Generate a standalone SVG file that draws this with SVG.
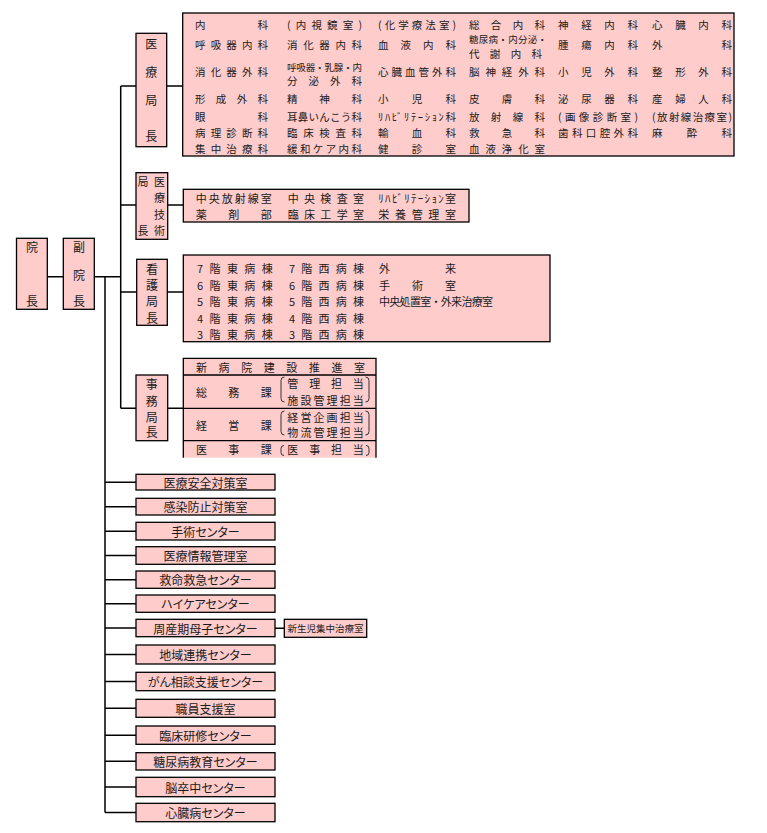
<svg xmlns="http://www.w3.org/2000/svg" width="767" height="833" viewBox="0 0 767 833">
<style>
.box{fill:#ffcccc;stroke:#000;stroke-width:1.3}
.fill{fill:#ffcccc;stroke:none}
.ln{stroke:#000;stroke-width:1.5;fill:none}
.bd{stroke:#000;stroke-width:1.3;fill:none}
.br{stroke:#333;stroke-width:1;fill:none}
text{font-family:"Noto Sans CJK JP","Noto Sans CJK SC",sans-serif;fill:#1a1a1a;dominant-baseline:central}
.t{font-size:11px}
.m{font-size:10.5px}
.s{font-size:9.5px}
.c{text-anchor:middle;font-size:12px;font-feature-settings:"palt"}
.v{text-anchor:middle;font-size:12px}
.w{text-anchor:middle;font-size:11px}
.n{text-anchor:middle;font-size:9.5px;font-feature-settings:"palt"}
</style>
<rect width="767" height="833" fill="#fff"/>
<g id="connectors">
<path class="ln" d="M47,276.7H63.3M94.3,276.7H120.7M120.7,86V408.3M120.7,86H136M166.7,86H182.7M120.7,205H136M167.7,205H183.3M120.7,292H136.7M167.3,292H183.3M120.7,408.3H136M167.7,408.3H183.3"/>
<path class="ln" d="M105,276.7V812.5M105,482.2H136M105,506.7H136M105,531.2H136M105,555.5H136M105,579.7H136M105,603.7H136M105,628H136M105,654.5H136M105,681.5H136M105,708.3H136M105,735.2H136M105,761.3H136M105,787H136M105,812.5H136M275,628.3H284.3"/>
</g>
<g id="director">
<rect class="box" x="16.5" y="238.3" width="30.8" height="71"/>
<text class="v" x="32" y="246.7">院</text>
<text class="v" x="32" y="300.7">長</text>
</g>
<g id="vice-director">
<rect class="box" x="63.3" y="238.3" width="31" height="71"/>
<text class="v" x="79" y="246.7">副</text>
<text class="v" x="79" y="274">院</text>
<text class="v" x="79" y="300.7">長</text>
</g>
<g id="medical-chief">
<rect class="box" x="136" y="33.3" width="30.7" height="113.4"/>
<text class="v" x="151.3" y="43.3">医</text>
<text class="v" x="151.3" y="71.7">療</text>
<text class="v" x="151.3" y="99.3">局</text>
<text class="v" x="151.3" y="135">長</text>
</g>
<g id="medical-departments">
<rect class="box" x="182.7" y="13" width="551.3" height="143"/>
<g class="m">
<text x="195" y="24.5" textLength="73" lengthAdjust="spacing">内科</text>
<text x="287" y="24.5" textLength="75" lengthAdjust="spacing">(内視鏡室)</text>
<text x="378" y="24.5" textLength="78" lengthAdjust="spacing">(化学療法室)</text>
<text x="469" y="24.5" textLength="76" lengthAdjust="spacing">総合内科</text>
<text x="558" y="24.5" textLength="80" lengthAdjust="spacing">神経内科</text>
<text x="652" y="24.5" textLength="80" lengthAdjust="spacing">心臓内科</text>

<text x="195" y="44.3" textLength="73" lengthAdjust="spacing">呼吸器内科</text>
<text x="287" y="44.3" textLength="75" lengthAdjust="spacing">消化器内科</text>
<text x="378" y="44.3" textLength="78" lengthAdjust="spacing">血液内科</text>
<text class="s" x="469" y="39" textLength="78" lengthAdjust="spacing">糖尿病・内分泌・</text>
<text x="469" y="53" textLength="73" lengthAdjust="spacing">代謝内科</text>
<text x="558" y="44.3" textLength="80" lengthAdjust="spacing">腫瘍内科</text>
<text x="652" y="44.3" textLength="80" lengthAdjust="spacing">外科</text>

<text x="195" y="71.7" textLength="73" lengthAdjust="spacing">消化器外科</text>
<text class="s" x="287" y="66.5" textLength="75" lengthAdjust="spacing">呼吸器・乳腺・内</text>
<text x="287" y="80.7" textLength="75" lengthAdjust="spacing">分泌外科</text>
<text x="378" y="71.7" textLength="78" lengthAdjust="spacing">心臓血管外科</text>
<text x="469" y="71.7" textLength="76" lengthAdjust="spacing">脳神経外科</text>
<text x="558" y="71.7" textLength="80" lengthAdjust="spacing">小児外科</text>
<text x="652" y="71.7" textLength="80" lengthAdjust="spacing">整形外科</text>

<text x="195" y="98.5" textLength="73" lengthAdjust="spacing">形成外科</text>
<text x="287" y="98.5" textLength="75" lengthAdjust="spacing">精神科</text>
<text x="378" y="98.5" textLength="78" lengthAdjust="spacing">小児科</text>
<text x="469" y="98.5" textLength="76" lengthAdjust="spacing">皮膚科</text>
<text x="558" y="98.5" textLength="80" lengthAdjust="spacing">泌尿器科</text>
<text x="652" y="98.5" textLength="80" lengthAdjust="spacing">産婦人科</text>

<text x="195" y="116.5" textLength="73" lengthAdjust="spacing">眼科</text>
<text x="287" y="116.5" textLength="75" lengthAdjust="spacing">耳鼻いんこう科</text>
<text x="378" y="116.5" textLength="78" lengthAdjust="spacing">ﾘﾊﾋﾞﾘﾃｰｼｮﾝ科</text>
<text x="469" y="116.5" textLength="76" lengthAdjust="spacing">放射線科</text>
<text x="558" y="116.5" textLength="80" lengthAdjust="spacing">(画像診断室)</text>
<text x="652" y="116.5" textLength="80" lengthAdjust="spacing">(放射線治療室)</text>

<text x="195" y="132.8" textLength="73" lengthAdjust="spacing">病理診断科</text>
<text x="287" y="132.8" textLength="75" lengthAdjust="spacing">臨床検査科</text>
<text x="378" y="132.8" textLength="78" lengthAdjust="spacing">輸血科</text>
<text x="469" y="132.8" textLength="76" lengthAdjust="spacing">救急科</text>
<text x="558" y="132.8" textLength="80" lengthAdjust="spacing">歯科口腔外科</text>
<text x="652" y="132.8" textLength="80" lengthAdjust="spacing">麻酔科</text>

<text x="195" y="148.2" textLength="73" lengthAdjust="spacing">集中治療科</text>
<text x="287" y="148.2" textLength="75" lengthAdjust="spacing">緩和ケア内科</text>
<text x="378" y="148.2" textLength="78" lengthAdjust="spacing">健診室</text>
<text x="469" y="148.2" textLength="76" lengthAdjust="spacing">血液浄化室</text>
</g>
</g>
<g id="medtech-chief">
<rect class="box" x="136" y="172.7" width="31.7" height="66.6"/>
<text class="w" x="143" y="181">局</text>
<text class="w" x="159.5" y="181">医</text>
<text class="w" x="159.5" y="197">療</text>
<text class="w" x="159.5" y="213.5">技</text>
<text class="w" x="143" y="230">長</text>
<text class="w" x="159.5" y="230">術</text>
</g>
<g id="medtech-departments">
<rect class="box" x="183.3" y="189.3" width="285.7" height="32.7"/>
<g class="t">
<text x="195.7" y="197.5" textLength="76" lengthAdjust="spacing">中央放射線室</text>
<text x="287.7" y="197.5" textLength="76.3" lengthAdjust="spacing">中央検査室</text>
<text x="378.3" y="197.5" textLength="77.7" lengthAdjust="spacing">ﾘﾊﾋﾞﾘﾃｰｼｮﾝ室</text>
<text x="195.7" y="213.8" textLength="76" lengthAdjust="spacing">薬剤部</text>
<text x="287.7" y="213.8" textLength="76.3" lengthAdjust="spacing">臨床工学室</text>
<text x="378.3" y="213.8" textLength="77.7" lengthAdjust="spacing">栄養管理室</text>
</g>
</g>
<g id="nursing-chief">
<rect class="box" x="136.7" y="259.3" width="30.6" height="66"/>
<text class="v" x="152" y="268.3">看</text>
<text class="v" x="152" y="284.3">護</text>
<text class="v" x="152" y="300.7">局</text>
<text class="v" x="152" y="317.3">長</text>
</g>
<g id="nursing-departments">
<rect class="box" x="183.3" y="255" width="366.7" height="86.7"/>
<g class="t">
<text x="197" y="268.3" textLength="75.7" lengthAdjust="spacing">7階東病棟</text>
<text x="197" y="284.7" textLength="75.7" lengthAdjust="spacing">6階東病棟</text>
<text x="197" y="301.2" textLength="75.7" lengthAdjust="spacing">5階東病棟</text>
<text x="197" y="317.7" textLength="75.7" lengthAdjust="spacing">4階東病棟</text>
<text x="197" y="334.3" textLength="75.7" lengthAdjust="spacing">3階東病棟</text>
<text x="289" y="268.3" textLength="75" lengthAdjust="spacing">7階西病棟</text>
<text x="289" y="284.7" textLength="75" lengthAdjust="spacing">6階西病棟</text>
<text x="289" y="301.2" textLength="75" lengthAdjust="spacing">5階西病棟</text>
<text x="289" y="317.7" textLength="75" lengthAdjust="spacing">4階西病棟</text>
<text x="289" y="334.3" textLength="75" lengthAdjust="spacing">3階西病棟</text>
<text x="379" y="268.3" textLength="77" lengthAdjust="spacing">外来</text>
<text x="379" y="284.7" textLength="77" lengthAdjust="spacing">手術室</text>
<text x="379" y="301.2" textLength="114" lengthAdjust="spacing">中央処置室・外来治療室</text>
</g>
</g>
<g id="admin-chief">
<rect class="box" x="136" y="375" width="31.7" height="65.7"/>
<text class="v" x="151.8" y="383.3">事</text>
<text class="v" x="151.8" y="400">務</text>
<text class="v" x="151.8" y="416">局</text>
<text class="v" x="151.8" y="431.7">長</text>
</g>
<g id="admin-departments">
<rect class="fill" x="183.3" y="358.3" width="192.7" height="99.4"/>
<path class="bd" d="M183.3,457.7V358.3H376V457.7M183.3,375H376M183.3,408.3H376M183.3,440.7H376"/>
<path class="br" d="M284.5,377Q281,377 281,380.5V398.5Q281,402 284.5,402M365.5,377Q369,377 369,380.5V398.5Q369,402 365.5,402"/>
<path class="br" d="M284.5,411Q281,411 281,414.5V431.5Q281,435 284.5,435M365.5,411Q369,411 369,414.5V431.5Q369,435 365.5,435"/>
<path class="br" d="M284,445.5Q281,445.5 281,448.5V452.5Q281,455.5 284,455.5M366,445.5Q369,445.5 369,448.5V452.5Q369,455.5 366,455.5"/>
<g class="t">
<text x="196" y="366.7" textLength="169" lengthAdjust="spacing">新病院建設推進室</text>
<text x="196" y="391.7" textLength="75.7" lengthAdjust="spacing">総務課</text>
<text x="287.3" y="383.3" textLength="76.5" lengthAdjust="spacing">管理担当</text>
<text x="287.3" y="400" textLength="76.5" lengthAdjust="spacing">施設管理担当</text>
<text x="196" y="424.5" textLength="75.7" lengthAdjust="spacing">経営課</text>
<text x="287.3" y="416.7" textLength="76.5" lengthAdjust="spacing">経営企画担当</text>
<text x="287.3" y="432" textLength="76.5" lengthAdjust="spacing">物流管理担当</text>
<text x="196" y="449" textLength="75.7" lengthAdjust="spacing">医事課</text>
<text x="287.3" y="449" textLength="76.5" lengthAdjust="spacing">医事担当</text>
</g>
</g>
<g id="safety"><rect class="box" x="136" y="474.3" width="139" height="15.7"/><text class="c" x="205.5" y="482.2">医療安全対策室</text></g>
<g id="infection"><rect class="box" x="136" y="498.3" width="139" height="16.7"/><text class="c" x="205.5" y="506.7">感染防止対策室</text></g>
<g id="surgery-center"><rect class="box" x="136" y="522.3" width="139" height="17.7"/><text class="c" x="205.5" y="531.2">手術センター</text></g>
<g id="medinfo"><rect class="box" x="136" y="546.7" width="139" height="17.6"/><text class="c" x="205.5" y="555.5">医療情報管理室</text></g>
<g id="emergency"><rect class="box" x="136" y="571" width="139" height="17.3"/><text class="c" x="205.5" y="579.7">救命救急センター</text></g>
<g id="highcare"><rect class="box" x="136" y="595" width="139" height="17.3"/><text class="c" x="205.5" y="603.7">ハイケアセンター</text></g>
<g id="perinatal"><rect class="box" x="136" y="619.3" width="139" height="17.4"/><text class="c" x="205.5" y="628">周産期母子センター</text></g>
<g id="nicu"><rect class="box" x="284.3" y="619.3" width="82.4" height="18"/><text class="n" x="325.5" y="628.3">新生児集中治療室</text></g>
<g id="regional"><rect class="box" x="136" y="645" width="139" height="19"/><text class="c" x="205.5" y="654.5">地域連携センター</text></g>
<g id="cancer"><rect class="box" x="136" y="672.3" width="139" height="18.4"/><text class="c" x="205.5" y="681.5">がん相談支援センター</text></g>
<g id="staff"><rect class="box" x="136" y="699.3" width="139" height="18"/><text class="c" x="205.5" y="708.3">職員支援室</text></g>
<g id="training"><rect class="box" x="136" y="726" width="139" height="18.3"/><text class="c" x="205.5" y="735.2">臨床研修センター</text></g>
<g id="diabetes"><rect class="box" x="136" y="752.7" width="139" height="17.3"/><text class="c" x="205.5" y="761.3">糖尿病教育センター</text></g>
<g id="stroke"><rect class="box" x="136" y="777.3" width="139" height="19.4"/><text class="c" x="205.5" y="787">脳卒中センター</text></g>
<g id="heart"><rect class="box" x="136" y="803.3" width="139" height="18.4"/><text class="c" x="205.5" y="812.5">心臓病センター</text></g>
</svg>
